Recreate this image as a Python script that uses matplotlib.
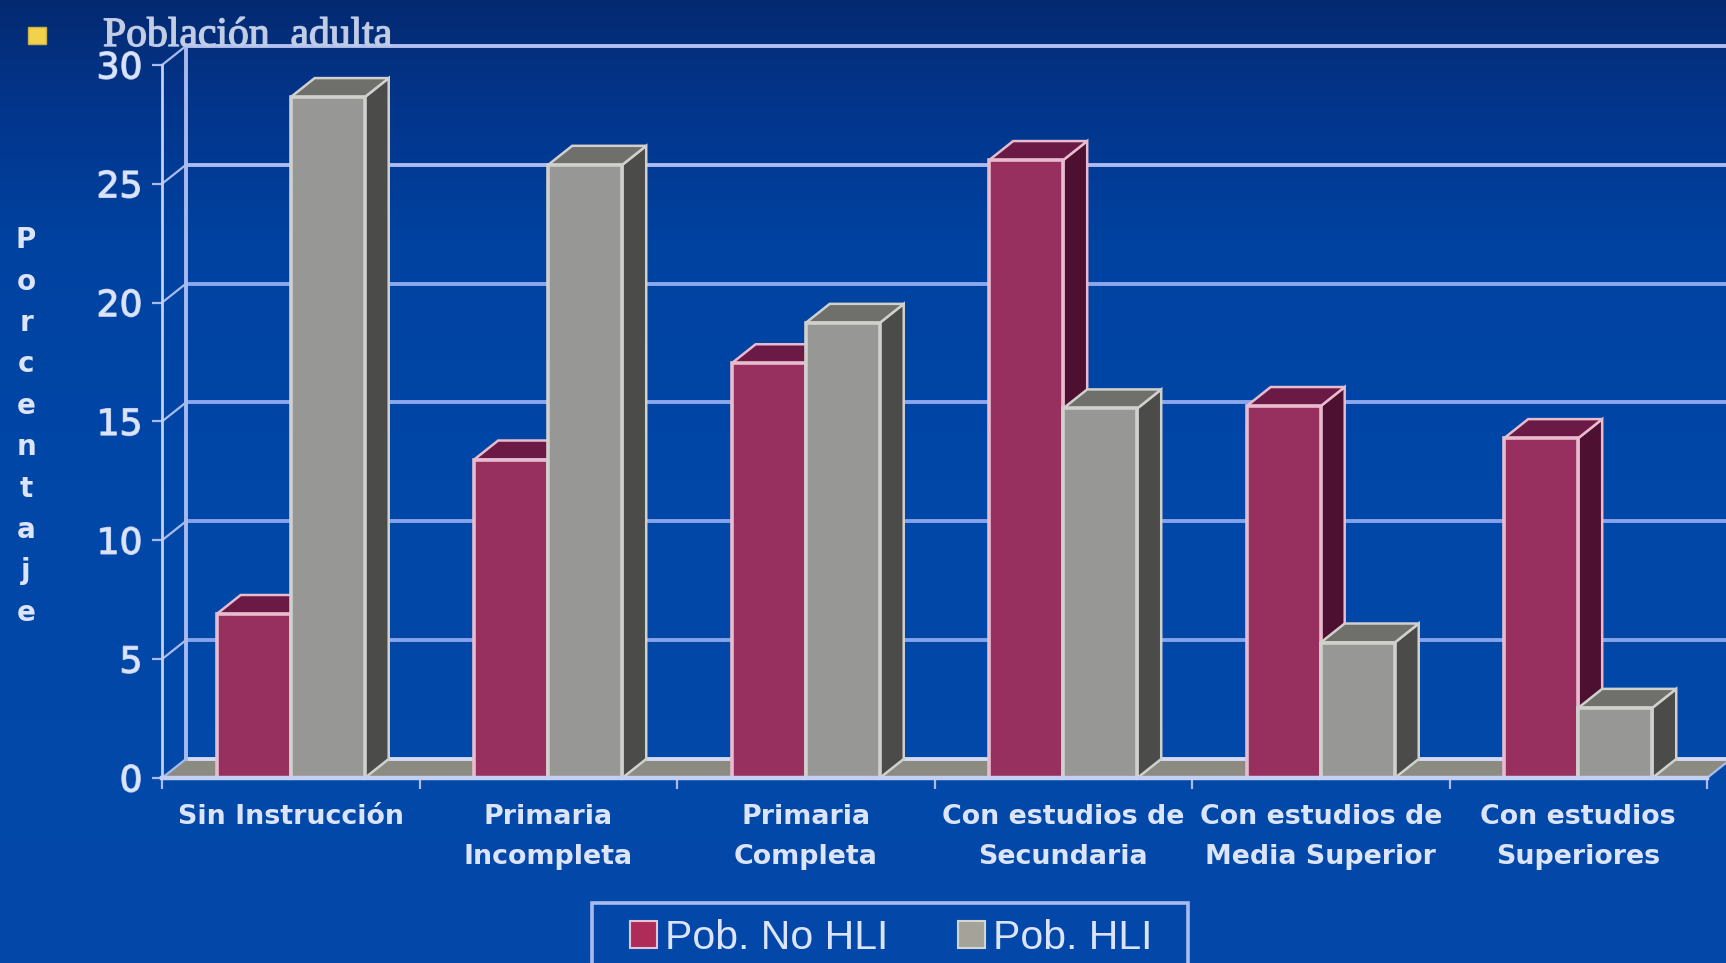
import numpy as np
import matplotlib
matplotlib.use('Agg')
import matplotlib.pyplot as plt
import matplotlib.patheffects as pe
from matplotlib.colors import LinearSegmentedColormap
from matplotlib.patches import Polygon, Rectangle

categories = ['Sin Instrucción', 'Primaria\nIncompleta', 'Primaria\nCompleta',
              'Con estudios de\nSecundaria', 'Con estudios de\nMedia Superior',
              'Con estudios\nSuperiores']
no_hli = [6.9, 13.4, 17.45, 26.0, 15.65, 14.3]
hli = [28.65, 25.8, 19.15, 15.55, 5.7, 2.95]
y_ticks = [0, 5, 10, 15, 20, 25, 30]
grid_colors = ['#d3daf2', '#86a3ea', '#86a3ea', '#8ca8ec', '#8ca8ec', '#aebbf0', '#b4c0f0']

W, H = 1726, 963
BAR_W = 0.2875
DX = 0.093   # 3d depth in category units
DY = 0.8     # 3d depth in percent units
LINE = '#a9bbee'
TEXT = '#dbe4f8'
GLOW = [pe.withStroke(linewidth=1, foreground='#b4c6ee')]


def draw_bar(ax, x, h, front, top, side, edge, z):
    ax.add_patch(Polygon([(x + BAR_W, 0), (x + BAR_W + DX, DY), (x + BAR_W + DX, h + DY), (x + BAR_W, h)],
                         facecolor=side, edgecolor=edge, lw=1.8, zorder=z, clip_on=False))
    ax.add_patch(Polygon([(x, h), (x + DX, h + DY), (x + BAR_W + DX, h + DY), (x + BAR_W, h)],
                         facecolor=top, edgecolor=edge, lw=1.8, zorder=z, clip_on=False))
    ax.bar(x, h, BAR_W, align='edge', color=front, edgecolor=edge, lw=2.6, zorder=z + 0.5, clip_on=False)


fig = plt.figure(figsize=(W / 100, H / 100), dpi=100)

# background gradient
bg = fig.add_axes([0, 0, 1, 1], zorder=-1)
bg.axis('off')
cmap = LinearSegmentedColormap.from_list('bg', [(0, '#032a70'), (0.1, '#03348a'), (0.25, '#0042a0'), (0.5, '#0047a8'), (1, '#0449aa')])
bg.imshow(np.linspace(0, 1, 256).reshape(-1, 1), aspect='auto', cmap=cmap)

ax = fig.add_axes([162 / W, 1 - 778 / H, 1545 / W, 713 / H])
ax.patch.set_visible(False)
ax.set_xlim(0, 6)
ax.set_ylim(0, 30)

# floor and walls
ax.add_patch(Polygon([(0, 0), (DX, DY), (6 + DX, DY), (6, 0)], facecolor='#8b8b82', edgecolor='none', zorder=1, clip_on=False))
for y, c in zip(y_ticks, grid_colors):
    ax.plot([DX, 6 + DX], [y + DY, y + DY], color=c, lw=2.8, zorder=1.5, clip_on=False)
    ax.plot([0, DX], [y, y + DY], color=LINE, lw=1.6, zorder=1.5, clip_on=False)
ax.plot([DX, DX], [DY, 30 + DY], color=LINE, lw=2.8, zorder=1.5, clip_on=False)
ax.plot([6, 6 + DX], [0, DY], color=LINE, lw=1.6, zorder=1.5, clip_on=False)

# bars, drawn left to right so the nearer faces cover the others
for i in range(len(categories)):
    x0 = i + 0.5 - BAR_W
    draw_bar(ax, x0, no_hli[i], '#98305f', '#6b1a45', '#4e1030', '#e8bccf', 2 + i)
    draw_bar(ax, x0 + BAR_W, hli[i], '#979795', '#6f6f6b', '#4b4b49', '#d0d0cc', 2.7 + i)

for s in ['top', 'right']:
    ax.spines[s].set_visible(False)
for s in ['left', 'bottom']:
    ax.spines[s].set_color('#c4cff2')
    ax.spines[s].set_zorder(10)
ax.spines['left'].set_linewidth(2)
ax.spines['bottom'].set_linewidth(3.2)

ax.set_yticks(y_ticks)
ax.tick_params(axis='y', length=7, width=1.6, color=LINE, labelcolor=TEXT, labelsize=26, pad=7)
ax.set_xticks(range(7))
ax.set_xticklabels([])
ax.set_xticks(np.arange(6) + 0.5, categories, minor=True, fontweight='bold', fontsize=19.4, color=TEXT, linespacing=1.66)
ax.tick_params(axis='x', which='major', length=8, width=1.6, color=LINE)
ax.tick_params(axis='x', which='minor', length=0, pad=19)
for label in ax.get_yticklabels():
    label.set_path_effects(GLOW)

ax.set_ylabel('\n'.join('Porcentaje'), rotation=0, fontweight='bold', fontsize=20, color=TEXT, linespacing=1.61, labelpad=0, va='center')
ax.yaxis.set_label_coords((26 - 162) / 1545, 0.493)

# bullet and title
fig.patches.append(Rectangle((28 / W, 1 - 44 / H), 18 / W, 17 / H, transform=fig.transFigure, facecolor='#f3d24b', edgecolor='#c9b04a', lw=1))
fig.text(103 / W, 1 - 46 / H, 'Población  adulta', family='Liberation Serif', fontsize=30, color='#c4cce0', va='baseline', path_effects=GLOW)

# legend: the box runs off the bottom of the picture, so it is drawn on its own
fig.patches.append(Rectangle((592 / W, 1 - 975 / H), 596 / W, 72 / H, transform=fig.transFigure, facecolor='none', edgecolor=LINE, lw=2.6))
handles = [Rectangle((0, 0), 1, 1, facecolor='#b02c58', edgecolor='#e6c4d8', lw=1.5),
           Rectangle((0, 0), 1, 1, facecolor='#a3a39a', edgecolor='#d4d4d0', lw=1.5)]
fig.legend(handles, ['Pob. No HLI', 'Pob. HLI'], ncol=2, loc='upper left', bbox_to_anchor=(630 / W, 1 - 919 / H),
           bbox_transform=fig.transFigure, borderaxespad=0, borderpad=0, frameon=False,
           labelcolor=TEXT, handlelength=0.66, handleheight=0.62, handletextpad=0.2,
           columnspacing=1.69, prop={'family': 'Liberation Sans', 'size': 29.5})

fig.savefig('out.png', dpi=100)
